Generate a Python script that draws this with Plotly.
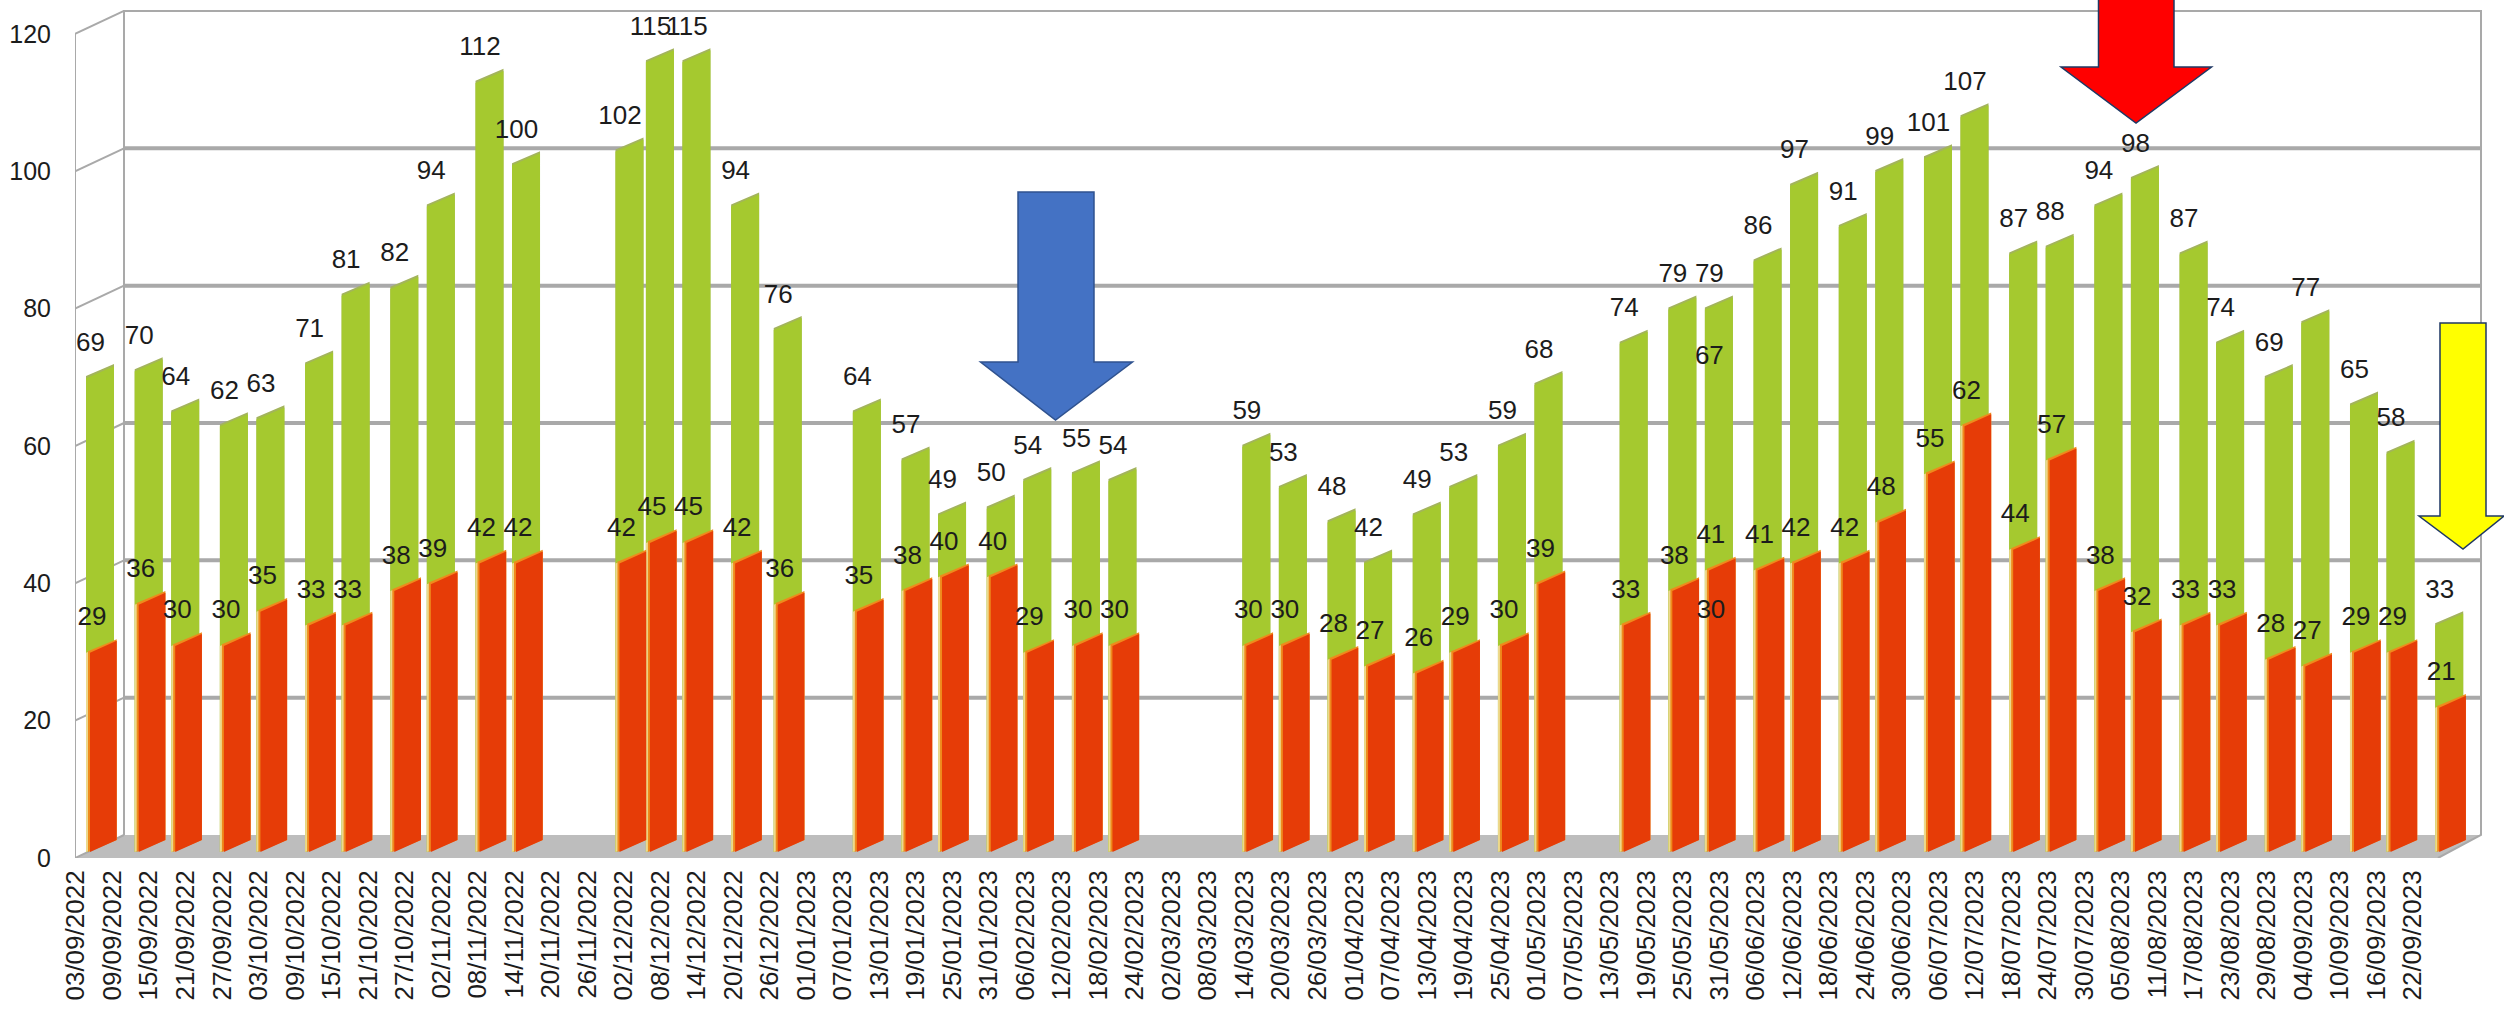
import pandas as pd
import plotly.graph_objects as go

# Reading dates and their two counts
bar_dates = [
    "2022-09-03", "2022-09-11", "2022-09-17", "2022-09-25", "2022-10-01", "2022-10-09",
    "2022-10-15", "2022-10-23", "2022-10-29", "2022-11-06", "2022-11-12", "2022-11-29",
    "2022-12-04", "2022-12-10", "2022-12-18", "2022-12-25", "2023-01-07", "2023-01-15",
    "2023-01-21", "2023-01-29", "2023-02-04", "2023-02-12", "2023-02-18", "2023-03-12",
    "2023-03-18", "2023-03-26", "2023-04-01", "2023-04-09", "2023-04-15", "2023-04-23",
    "2023-04-29", "2023-05-13", "2023-05-21", "2023-05-27", "2023-06-04", "2023-06-10",
    "2023-06-18", "2023-06-24", "2023-07-02", "2023-07-08", "2023-07-16", "2023-07-22",
    "2023-07-30", "2023-08-05", "2023-08-13", "2023-08-19", "2023-08-27", "2023-09-02",
    "2023-09-10", "2023-09-16", "2023-09-24",
    "2023-05-27",
]
green_values = [
    69, 70, 64, 62, 63, 71, 81, 82, 94, 112, 100, 102, 115, 115, 94, 76,
    64, 57, 49, 50, 54, 55, 54, 59, 53, 48, 42, 49, 53, 59, 68, 74,
    79, 79, 86, 97, 91, 99, 101, 107, 87, 88, 94, 98, 87, 74, 69, 77, 65, 58, 33,
    67,
]
red_values = [
    29, 36, 30, 30, 35, 33, 33, 38, 39, 42, 42, 42, 45, 45, 42, 36,
    35, 38, 40, 40, 29, 30, 30, 30, 30, 28, 27, 26, 29, 30, 39, 33,
    38, 41, 41, 42, 42, 48, 55, 62, 44, 57, 38, 32, 33, 33, 28, 27, 29, 29, 21,
    30,
]
axis_dates = [
    "03/09/2022", "09/09/2022", "15/09/2022", "21/09/2022", "27/09/2022", "03/10/2022",
    "09/10/2022", "15/10/2022", "21/10/2022", "27/10/2022", "02/11/2022", "08/11/2022",
    "14/11/2022", "20/11/2022", "26/11/2022", "02/12/2022", "08/12/2022", "14/12/2022",
    "20/12/2022", "26/12/2022", "01/01/2023", "07/01/2023", "13/01/2023", "19/01/2023",
    "25/01/2023", "31/01/2023", "06/02/2023", "12/02/2023", "18/02/2023", "24/02/2023",
    "02/03/2023", "08/03/2023", "14/03/2023", "20/03/2023", "26/03/2023", "01/04/2023",
    "07/04/2023", "13/04/2023", "19/04/2023", "25/04/2023", "01/05/2023", "07/05/2023",
    "13/05/2023", "19/05/2023", "25/05/2023", "31/05/2023", "06/06/2023", "12/06/2023",
    "18/06/2023", "24/06/2023", "30/06/2023", "06/07/2023", "12/07/2023", "18/07/2023",
    "24/07/2023", "30/07/2023", "05/08/2023", "11/08/2023", "17/08/2023", "23/08/2023",
    "29/08/2023", "04/09/2023", "10/09/2023", "16/09/2023", "22/09/2023",
]
value_ticks = [0, 20, 40, 60, 80, 100, 120]

# Figure frame and axis scales, in screen pixels
WIDTH, HEIGHT = 2504, 1011
LEFT, BASE_Y = 75, 858
PX_PER_DAY, PX_PER_UNIT = 6.086, 6.867
FIRST_DAY = pd.Timestamp("2022-09-03")
FONT = "Liberation Sans"
TEXT = "#1c1c1c"
GREEN, GREEN_EDGE = "#a5c92f", "#a3b45c"
RED, RED_EDGE, RED_HALO = "#e63c07", "#ef8a1c", "#ecd98c"
GRID, FLOOR = "#a9a9a9", "#bdbdbd"


def days(px):
    return pd.Timedelta(days=px / PX_PER_DAY)


def units(px):
    return px / PX_PER_UNIT


x_start = FIRST_DAY - days(1)
x_end = x_start + days(WIDTH - LEFT)
y_end = units(BASE_Y)

# Pseudo-3D projection: the wall sits behind the front plane, bars stand between them
WALL_DX, WALL_DY = days(49), units(23)
BAR_DX, BAR_LIFT = days(10), units(6)
GREEN_W, RED_W = days(28), days(26.7)
BAR_RISE = units(12)
RED_SHIFT = days(4)
LABEL_DY = units(34)


def bar_polygons(dates, values, width, shift=pd.Timedelta(0), extra=0.0):
    xs, ys = [], []
    for day, v in zip(dates, values):
        x0 = pd.Timestamp(day) + BAR_DX + shift
        x1 = x0 + width
        xs += [x0, x1, x1, x0, x0, None]
        ys += [BAR_LIFT, BAR_LIFT + BAR_RISE,
               v + extra + BAR_LIFT + BAR_RISE, v + extra + BAR_LIFT, BAR_LIFT, None]
    return xs, ys


def add_bars(figure, dates, values, width, color, shift=pd.Timedelta(0), extra=0.0):
    xs, ys = bar_polygons(dates, values, width, shift, extra)
    figure.add_trace(go.Scatter(x=xs, y=ys, fill="toself", fillcolor=color, mode="none",
                                showlegend=False, hoverinfo="skip"))


def value_labels(dates, values, label_dx):
    return go.Scatter(
        x=[pd.Timestamp(d) + BAR_DX + label_dx for d in dates],
        y=[v + BAR_LIFT + LABEL_DY for v in values],
        text=[str(v) for v in values],
        mode="text",
        textposition="middle center",
        textfont=dict(family=FONT, size=26, color=TEXT),
        showlegend=False,
        hoverinfo="skip",
        cliponaxis=False,
    )


fig = go.Figure()

# Floor of the chart box
floor_end = FIRST_DAY + days(2438 - 76)
wall_left = x_start + WALL_DX
wall_right = FIRST_DAY + days(2481 - 76)
fig.add_trace(go.Scatter(
    x=[x_start, wall_left, wall_right, floor_end, x_start],
    y=[0, WALL_DY, WALL_DY, 0, 0],
    fill="toself", fillcolor=FLOOR, mode="none",
    showlegend=False, hoverinfo="skip",
))

# Back wall gridlines
grid_x, grid_y = [], []
for v in value_ticks[1:-1]:
    grid_x += [wall_left, wall_right, None]
    grid_y += [v + WALL_DY, v + WALL_DY, None]
fig.add_trace(go.Scatter(x=grid_x, y=grid_y, mode="lines",
                         line=dict(color=GRID, width=4),
                         showlegend=False, hoverinfo="skip"))

# Thin box edges: wall outline, front axis and the corner diagonals
edge_x = [wall_left, wall_left, wall_right, wall_right, floor_end, None, x_start, x_start, None]
edge_y = [WALL_DY, 120 + WALL_DY, 120 + WALL_DY, WALL_DY, 0, None, 0, 120, None]
for v in value_ticks:
    edge_x += [x_start, wall_left, None]
    edge_y += [v, v + WALL_DY, None]
fig.add_trace(go.Scatter(x=edge_x, y=edge_y, mode="lines",
                         line=dict(color=GRID, width=2),
                         showlegend=False, hoverinfo="skip"))

# Slanted bars: the taller count behind, the smaller one in front,
# each over slightly larger shapes that show as its lit edge
add_bars(fig, bar_dates, green_values, GREEN_W, GREEN_EDGE, extra=0.3)
add_bars(fig, bar_dates, green_values, GREEN_W, GREEN)
add_bars(fig, bar_dates, red_values, RED_W + days(4), RED_HALO)
add_bars(fig, bar_dates, red_values, RED_W + days(2), RED_EDGE, days(2), extra=0.25)
add_bars(fig, bar_dates, red_values, RED_W, RED, RED_SHIFT)

fig.add_trace(value_labels(bar_dates, green_values, days(4.5)))
fig.add_trace(value_labels(bar_dates, red_values, RED_SHIFT + days(2)))


def arrow(shaft_l, shaft_r, head_l, head_r, top, shoulder, tip_x, tip_y, fill, edge):
    """Block arrow pointing down, placed in page pixels."""
    pts = [(shaft_l, top), (shaft_r, top), (shaft_r, shoulder), (head_r, shoulder),
           (tip_x, tip_y), (head_l, shoulder), (shaft_l, shoulder)]
    path = "M" + " L".join(
        f"{(px - LEFT) / (WIDTH - LEFT):.5f},{1 - py / BASE_Y:.5f}" for px, py in pts
    ) + " Z"
    return dict(type="path", xref="paper", yref="paper", path=path,
                fillcolor=fill, line=dict(color=edge, width=1.5), layer="above")


shapes = [
    arrow(1018, 1094, 980.5, 1132.5, 192, 362, 1055.5, 420, "#4472c4", "#2f528f"),
    arrow(2098.5, 2174, 2061, 2211.5, -4, 67, 2136, 123, "#ff0000", "#1f3864"),
    arrow(2440, 2486, 2419, 2504, 323, 516, 2463, 549, "#ffff00", "#1f3864"),
]

fig.update_layout(
    width=WIDTH, height=HEIGHT,
    margin=dict(l=LEFT, r=0, t=0, b=HEIGHT - BASE_Y, autoexpand=False),
    paper_bgcolor="white", plot_bgcolor="white",
    showlegend=False,
    shapes=shapes,
    xaxis=dict(
        type="date",
        range=[x_start, x_end],
        tickmode="array",
        tickvals=[pd.to_datetime(d, format="%d/%m/%Y") for d in axis_dates],
        ticktext=axis_dates,
        tickangle=-90,
        ticks="outside", ticklen=1, tickcolor="rgba(0,0,0,0)",
        tickfont=dict(family=FONT, size=26, color=TEXT),
        showgrid=False, zeroline=False, showline=False,
    ),
    yaxis=dict(
        range=[0, y_end],
        tickmode="array",
        tickvals=value_ticks,
        ticktext=[str(v) for v in value_ticks],
        ticks="outside", ticklen=18, tickcolor="rgba(0,0,0,0)",
        tickfont=dict(family=FONT, size=25, color=TEXT),
        showgrid=False, zeroline=False, showline=False,
    ),
)

fig.write_html("out.html")
